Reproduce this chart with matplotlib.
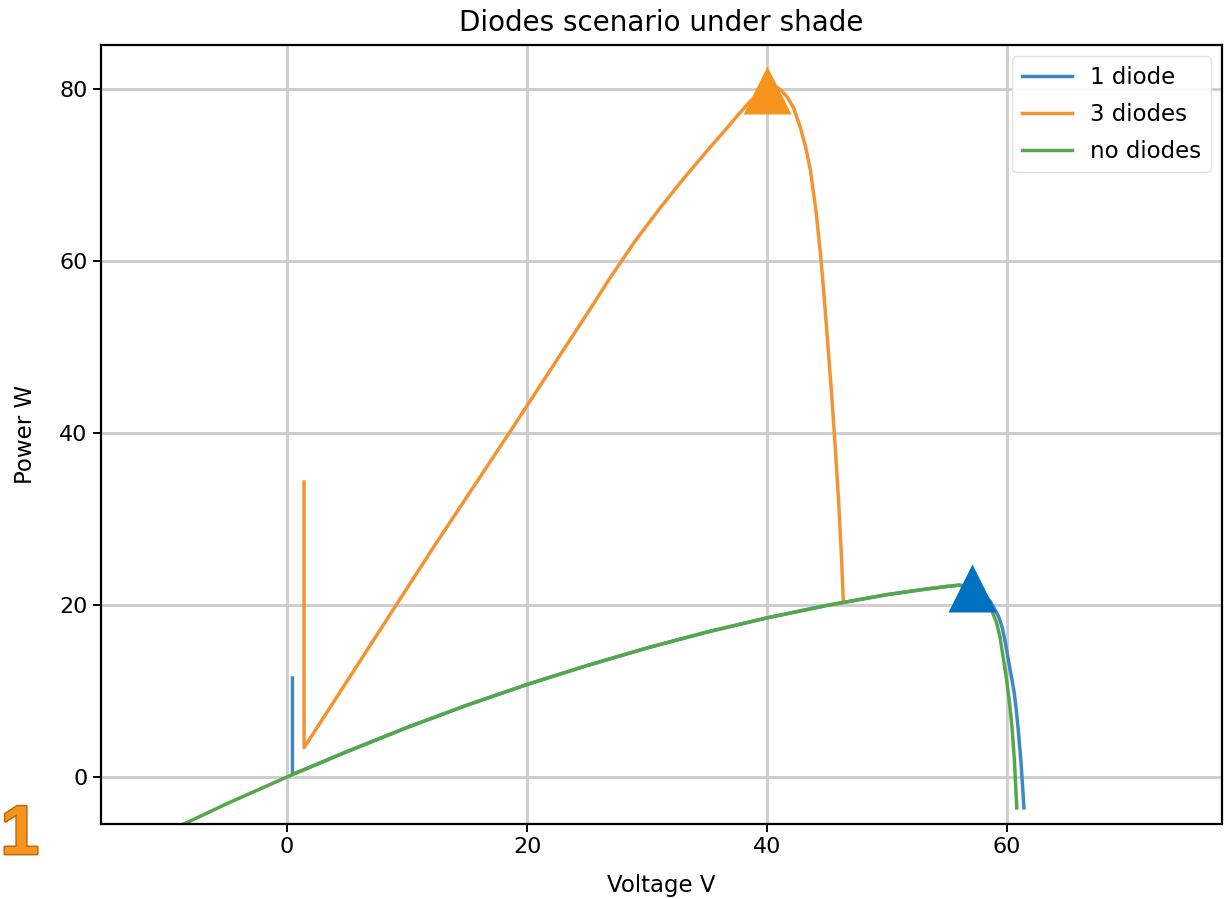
import matplotlib.pyplot as plt
import matplotlib.patheffects as pe

# ── P-V curves (voltage in V, power in W) ─────────────────────────────────────
one_diode_v = [0.45, 0.45, 5, 10, 15, 20, 25, 30, 35, 40, 45, 50, 53, 55, 56,
               57, 58, 58.6, 59.0, 59.3, 59.6, 59.85, 60.1, 60.35, 60.6, 60.75,
               60.9, 61.15, 61.4]
one_diode_p = [11.5, 0.3, 2.95, 5.75, 8.35, 10.75, 12.95, 15.0, 16.85, 18.5, 19.95,
               21.2, 21.8, 22.15, 22.3, 22.1, 21.3, 20.4, 19.4, 18.6, 17.3, 15.6,
               13.6, 11.7, 9.7, 7.9, 5.85, 1.8, -3.6]

three_diodes_v = [1.42, 1.42, 12.2, 18.8, 25.3, 27.0, 29.0, 31.0, 33.0, 35.0, 36.5,
                  37.6, 38.5, 39.2, 39.8, 40.3, 40.8, 41.2, 41.7, 42.2, 42.75, 43.2,
                  43.6, 44.1, 44.5, 44.8, 45.1, 45.4, 45.7, 45.95, 46.2, 46.35]
three_diodes_p = [34.3, 3.4, 26.7, 40.6, 54.5, 58.2, 62.3, 66.0, 69.5, 72.8, 75.2,
                  77.0, 78.4, 79.4, 80.0, 80.3, 80.2, 79.8, 79.0, 77.8, 75.6, 73.3,
                  70.6, 65.5, 60.0, 55.0, 49.5, 44.0, 37.8, 32.2, 25.5, 20.4]

no_diodes_v = [-10, -5, 0, 5, 10, 15, 20, 25, 30, 35, 40, 45, 50, 53, 55, 56,
               57, 57.6, 58.2, 58.7, 59.1, 59.4, 59.7, 59.9, 60.1, 60.25, 60.4,
               60.6, 60.8]
no_diodes_p = [-6.4, -3.1, 0, 2.95, 5.75, 8.35, 10.75, 12.95, 15.0, 16.85, 18.5,
               19.95, 21.2, 21.8, 22.15, 22.3, 22.0, 21.5, 20.6, 19.4, 18.0, 16.3,
               13.6, 11.8, 9.7, 7.9, 5.85, 2.0, -3.6]

# maximum power points
mpp_v = [40.0, 57.1]
mpp_p = [79.9, 22.0]

C_BLUE = "#3f88c5"
C_ORANGE = "#f39433"
C_GREEN = "#55a847"

plt.rcParams.update({
    "font.family": "DejaVu Sans",
    "font.size": 16.5,
    "axes.linewidth": 1.6,
    "xtick.major.size": 6,
    "ytick.major.size": 6,
    "xtick.major.width": 1.4,
    "ytick.major.width": 1.4,
})

fig = plt.figure(figsize=(12.28, 8.99), dpi=100)
ax = fig.add_axes([101 / 1228, 75 / 899, 1121 / 1228, 779 / 899])

ax.plot(one_diode_v, one_diode_p, color=C_BLUE, lw=2.5, label="1 diode")
ax.plot(three_diodes_v, three_diodes_p, color=C_ORANGE, lw=2.5, label="3 diodes")
ax.plot(no_diodes_v, no_diodes_p, color=C_GREEN, lw=2.5, label="no diodes")

ax.plot(mpp_v[0], mpp_p[0], "^", color="#f7941d", ms=35, mec="none")
ax.plot(mpp_v[1], mpp_p[1], "^", color="#0070c0", ms=35, mec="none")

ax.set_xlim(-15.5, 77.9)
ax.set_ylim(-5.47, 85.1)
ax.set_xticks([0, 20, 40, 60])
ax.set_yticks([0, 20, 40, 60, 80])
ax.tick_params(labelsize=16)
ax.grid(True, color="#cccccc", lw=2)
ax.set_axisbelow(True)

ax.set_title("Diodes scenario under shade", fontsize=20, pad=10)
ax.set_xlabel("Voltage V", fontsize=16.5, labelpad=12)
ax.set_ylabel("Power W", fontsize=16.5, labelpad=16)
ax.legend(loc="upper right", fontsize=16.5, framealpha=0.9, edgecolor="#dddddd",
          labelspacing=0.62, handlelength=2.2)

fig.text(0.5 / 1228, 1 - 836 / 899, "1", fontsize=50, fontweight="bold",
         family="Liberation Sans", color="#f7941d", ha="left", va="center",
         path_effects=[pe.withStroke(linewidth=2, foreground="#b8650a")])

fig.savefig("out.png", dpi=100)
